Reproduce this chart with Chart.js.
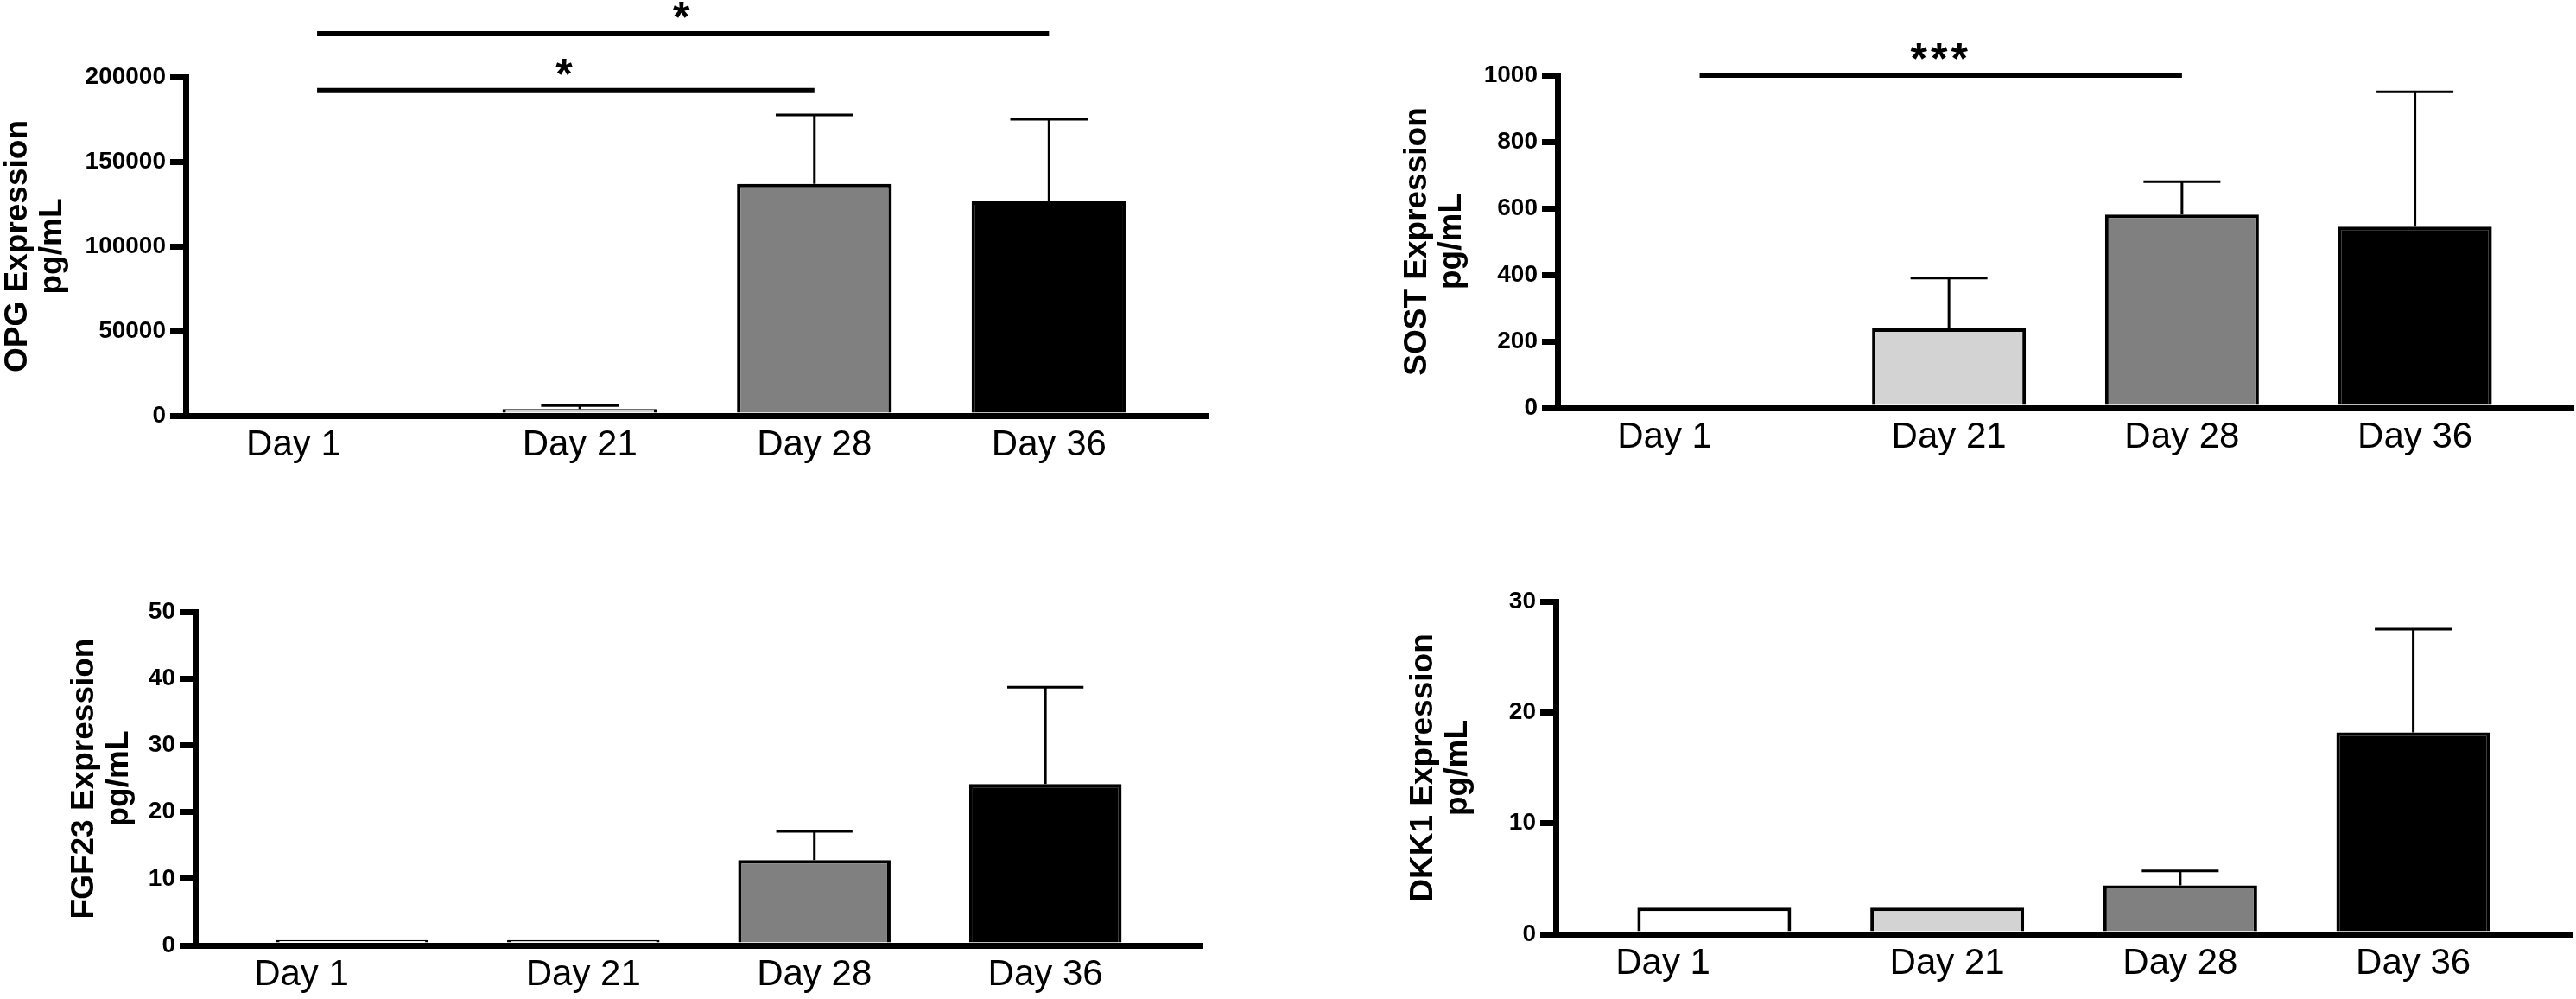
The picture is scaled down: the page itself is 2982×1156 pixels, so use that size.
<!DOCTYPE html>
<html>
<head>
<meta charset="utf-8">
<script src="https://cdn.jsdelivr.net/npm/chart.js@4.4.1/dist/chart.umd.min.js"></script>
<style>
  body { margin: 0; background: #fff; }
  #wrap { position: relative; width: 2982px; height: 1156px; background: #fff; }
  canvas { position: absolute; }
</style>
</head>
<body>
<div id="wrap">
  <canvas id="opg" width="1440" height="578" style="left:0px;top:0px"></canvas>
  <canvas id="sost" width="1382" height="578" style="left:1600px;top:0px"></canvas>
  <canvas id="fgf23" width="1440" height="578" style="left:0px;top:578px"></canvas>
  <canvas id="dkk1" width="1382" height="578" style="left:1600px;top:578px"></canvas>
</div>
<script>
// time points and bar fills
const days = ['Day 1', 'Day 21', 'Day 28', 'Day 36'];
const barColors = ['#ffffff', '#d3d3d3', '#808080', '#000000'];

// mean and SD (upper error bar) per time point
const opgMean = [0, 4000, 136800, 126500];
const opgSd = [0, 2000, 40700, 48500];
const sostMean = [0, 239, 581, 545];
const sostSd = [0, 151, 99, 405];
const fgf23Mean = [0.8, 0.8, 12.8, 24.2];
const fgf23Sd = [0, 0, 4.3, 14.5];
const dkk1Mean = [2.4, 2.4, 4.4, 18.2];
const dkk1Sd = [0, 0, 1.3, 9.3];

// y tick labels
const opgTicks = [0, 50000, 100000, 150000, 200000];
const sostTicks = [0, 200, 400, 600, 800, 1000];
const fgf23Ticks = [0, 10, 20, 30, 40, 50];
const dkk1Ticks = [0, 10, 20, 30];

// significance bars: from / to time point index, height in axis units
const opgSig = [
  { from: 0, to: 2, y: 192000, text: '*' },
  { from: 0, to: 3, y: 225500, text: '*' }
];
const sostSig = [
  { from: 0, to: 2, y: 1000, text: '***' }
];

const FONT = "'Liberation Sans', Arial, Helvetica, sans-serif";
Chart.defaults.font.family = FONT;
Chart.defaults.color = '#000';

// where the x labels sit (Day 1 label is pulled left of its bar, like the original)
const labelSlots = [-0.22, 1, 2, 3];

function errorBarPlugin(sd) {
  return {
    id: 'errorBars',
    afterDatasetsDraw(chart) {
      const ctx = chart.ctx;
      const y = chart.scales.y;
      const ds = chart.data.datasets[0];
      ctx.save();
      ctx.strokeStyle = '#000';
      ctx.lineWidth = 3;
      chart.getDatasetMeta(0).data.forEach((bar, i) => {
        if (!sd[i]) return;
        const top = y.getPixelForValue(ds.data[i].y + sd[i]);
        const half = bar.width * 0.25;
        ctx.beginPath();
        ctx.moveTo(bar.x, bar.y);
        ctx.lineTo(bar.x, top);
        ctx.moveTo(bar.x - half, top);
        ctx.lineTo(bar.x + half, top);
        ctx.stroke();
      });
      ctx.restore();
    }
  };
}

function sigPlugin(list, lead) {
  return {
    id: 'sigBars',
    afterDraw(chart) {
      const ctx = chart.ctx;
      const xs = chart.scales.x, ys = chart.scales.y;
      ctx.save();
      ctx.fillStyle = '#000';
      ctx.strokeStyle = '#000';
      ctx.lineWidth = 6;
      ctx.font = 'bold 50px ' + FONT;
      ctx.textAlign = 'center';
      ctx.textBaseline = 'alphabetic';
      if ('letterSpacing' in ctx) ctx.letterSpacing = '4px';
      list.forEach(s => {
        const x1 = xs.getPixelForValue(s.from + lead);
        const x2 = xs.getPixelForValue(s.to);
        const yy = ys.getPixelForValue(s.y);
        ctx.beginPath();
        ctx.moveTo(x1, yy);
        ctx.lineTo(x2, yy);
        ctx.stroke();
        ctx.fillText(s.text, (x1 + x2) / 2, yy - 2);
      });
      ctx.restore();
    }
  };
}

function makeChart(id, p) {
  const canvas = document.getElementById(id);
  const W = canvas.width, H = canvas.height;
  const a = p.area;
  return new Chart(canvas, {
    type: 'bar',
    data: {
      datasets: [{
        data: p.mean.map((v, i) => ({ x: i, y: v })),
        backgroundColor: barColors,
        borderColor: '#000',
        borderWidth: 4,
        borderSkipped: 'start',
        barPercentage: 0.66,
        categoryPercentage: 1
      }]
    },
    options: {
      responsive: false,
      animation: false,
      events: [],
      layout: { padding: { left: 0, top: a.top, right: W - a.right, bottom: 0 } },
      plugins: { legend: { display: false }, tooltip: { enabled: false } },
      scales: {
        x: {
          type: 'linear',
          min: -0.68,
          max: 3.68,
          offset: false,
          bounds: 'data',
          grid: { display: false, drawTicks: false, offset: false },
          border: { display: true, color: '#000', width: 7, z: 1 },
          afterBuildTicks: s => { s.ticks = labelSlots.map(v => ({ value: v })); },
          afterFit: s => { s.height = H - a.bottom; },
          ticks: {
            autoSkip: false, maxRotation: 0, minRotation: 0, padding: 9,
            color: '#000', font: { family: FONT, size: 42 },
            callback: (v, i) => days[i]
          }
        },
        y: {
          min: 0,
          max: p.ticks[p.ticks.length - 1],
          afterBuildTicks: s => { s.ticks = p.ticks.map(v => ({ value: v })); },
          afterFit: s => { s.width = a.left; },
          grid: { drawOnChartArea: false, drawTicks: true, tickLength: 18, lineWidth: 7, color: '#000' },
          border: { display: true, color: '#000', width: 7, z: 1 },
          ticks: {
            padding: 5, color: '#000',
            font: { family: FONT, size: 28, weight: 'bold' },
            callback: v => String(v)
          },
          title: {
            display: true,
            text: p.title,
            color: '#000',
            font: { family: FONT, size: 37, weight: 'bold', lineHeight: 1.1 },
            padding: { top: p.titlePad, bottom: 0 }
          }
        }
      }
    },
    plugins: [errorBarPlugin(p.sd), sigPlugin(p.sig || [], p.lead || 0)]
  });
}

makeChart('opg', {
  mean: opgMean, sd: opgSd, ticks: opgTicks, sig: opgSig, lead: -0.12,
  title: ['OPG Expression', 'pg/mL'], titlePad: 0,
  area: { left: 215, top: 89, right: 1399, bottom: 481 }
});
makeChart('sost', {
  mean: sostMean, sd: sostSd, ticks: sostTicks, sig: sostSig, lead: -0.07,
  title: ['SOST Expression', 'pg/mL'], titlePad: 20,
  area: { left: 203, top: 87, right: 1379, bottom: 472 }
});
makeChart('fgf23', {
  mean: fgf23Mean, sd: fgf23Sd, ticks: fgf23Ticks,
  title: ['FGF23 Expression', 'pg/mL'], titlePad: 77,
  area: { left: 226, top: 130, right: 1392, bottom: 516 }
});
makeChart('dkk1', {
  mean: dkk1Mean, sd: dkk1Sd, ticks: dkk1Ticks,
  title: ['DKK1 Expression', 'pg/mL'], titlePad: 27,
  area: { left: 201, top: 118, right: 1377, bottom: 503 }
});
</script>
</body>
</html>
